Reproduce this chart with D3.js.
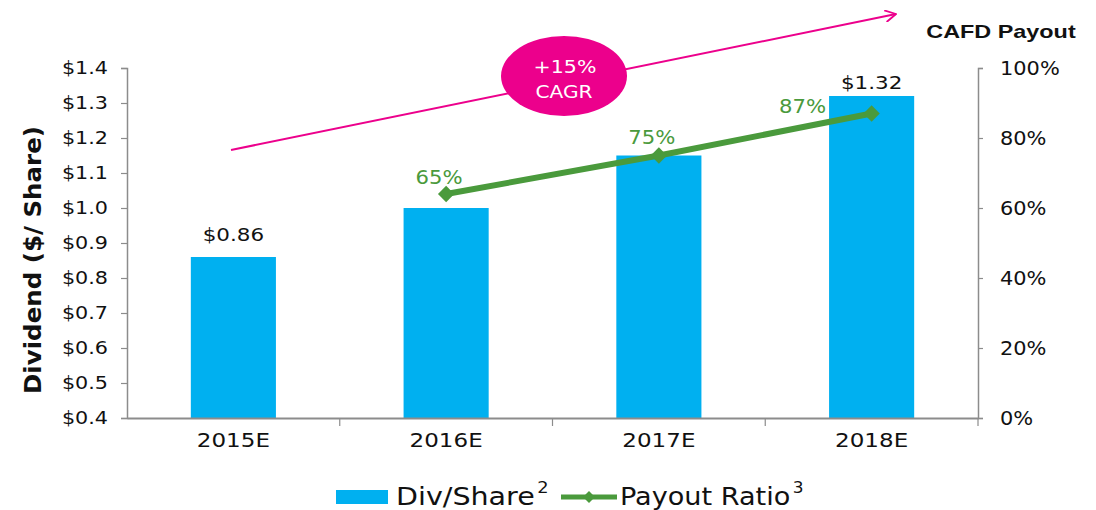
<!DOCTYPE html>
<html>
<head>
<meta charset="utf-8">
<script src="https://cdn.jsdelivr.net/npm/d3@7"></script>
<style>
  body { margin: 0; background: #fff; }
  svg { display: block; }
</style>
</head>
<body>
<div id="chart"></div>
<script>
// data
const years = ["2015E", "2016E", "2017E", "2018E"];
const divPerShare = [0.86, 1.00, 1.15, 1.32];
const divLabels = ["$0.86", null, null, "$1.32"];
const payoutYears = ["2016E", "2017E", "2018E"];
const payoutRatio = [0.64, 0.75, 0.87];
const payoutLabels = ["65%", "75%", "87%"];
const leftTicks = [0.4, 0.5, 0.6, 0.7, 0.8, 0.9, 1.0, 1.1, 1.2, 1.3, 1.4];
const rightTicks = [0, 0.2, 0.4, 0.6, 0.8, 1.0];

// label placement (hand moved in the original)
const divLabelDy = [-16, 0, 0, -7];
const payoutLabelDx = [-7, -7, -69];
const payoutLabelDy = [-10, -11, 0];

const W = 1096, H = 510;
const plotLeft = 127, plotRight = 978, plotTop = 68, plotBottom = 418;
const blue = "#00b0f0", green = "#4a9a3c", pink = "#ec008c", axisCol = "#8c8c8c";
const tickFont = "DejaVu Sans, Verdana, sans-serif";

const svg = d3.select("#chart").append("svg")
  .attr("width", W).attr("height", H);

// the original is a bit wider than tall, so text is stretched sideways
function stretch(sel, s) {
  sel.each(function () {
    const t = d3.select(this);
    const x = +t.attr("x") || 0, y = +t.attr("y") || 0;
    t.attr("transform", "translate(" + x + "," + y + ") scale(" + s + ",1) translate(" + (-x) + "," + (-y) + ")");
  });
}

// scales
const x = d3.scaleBand().domain(years).range([plotLeft, plotRight]).paddingInner(0).paddingOuter(0);
const yL = d3.scaleLinear().domain([0.4, 1.4]).range([plotBottom, plotTop]);
const yR = d3.scaleLinear().domain([0, 1]).range([plotBottom, plotTop]);
const barW = x.bandwidth() * 0.4;
const cx = (d) => x(d) + x.bandwidth() / 2;

// bars
svg.selectAll("rect.bar")
  .data(years)
  .enter()
  .append("rect")
  .attr("class", "bar")
  .attr("x", (d) => cx(d) - barW / 2)
  .attr("y", (d, i) => yL(divPerShare[i]))
  .attr("width", barW)
  .attr("height", (d, i) => plotBottom - yL(divPerShare[i]))
  .attr("fill", blue);

// bar labels
const labelled = years.filter((d, i) => divLabels[i] != null);
svg.selectAll("text.barlab")
  .data(labelled)
  .enter()
  .append("text")
  .attr("x", (d) => cx(d))
  .attr("y", (d) => { const i = years.indexOf(d); return yL(divPerShare[i]) + divLabelDy[i]; })
  .attr("text-anchor", "middle")
  .style("font-family", tickFont)
  .style("font-size", "18.5px")
  .attr("fill", "#111")
  .text((d) => divLabels[years.indexOf(d)])
  .call(stretch, 1.16);

// left axis
const gL = svg.append("g")
  .attr("transform", "translate(" + plotLeft + ",0)")
  .call(d3.axisLeft(yL).tickValues(leftTicks).tickSize(6).tickPadding(13)
    .tickFormat((d) => "$" + d3.format(".1f")(d)));
// right axis
const gR = svg.append("g")
  .attr("transform", "translate(" + plotRight + ",0)")
  .call(d3.axisRight(yR).tickValues(rightTicks).tickSize(5).tickPadding(17)
    .tickFormat(d3.format(".0%")));
// x axis
const gX = svg.append("g")
  .attr("transform", "translate(0," + plotBottom + ")")
  .call(d3.axisBottom(x).tickSize(0).tickPadding(15));

[gL, gR].forEach((g) => {
  g.select(".domain").attr("stroke", axisCol).attr("stroke-width", 1.5);
  g.selectAll(".tick line").attr("stroke", axisCol).attr("stroke-width", 1.2);
  g.selectAll("text").style("font-family", tickFont).style("font-size", "18px").attr("fill", "#111");
});
gL.selectAll("text").call(stretch, 1.15);
gR.selectAll("text").style("font-size", "19px").call(stretch, 1.1);
gX.select(".domain").attr("stroke", axisCol).attr("stroke-width", 2);
gX.selectAll("text").style("font-family", tickFont)
  .style("font-size", "20px").attr("fill", "#111").call(stretch, 1.15);
// category separator ticks
const seps = years.slice(1).map((d) => x(d)).concat([plotRight]);
gX.selectAll("line.sep")
  .data(seps)
  .enter()
  .append("line")
  .attr("x1", (d) => d)
  .attr("x2", (d) => d)
  .attr("y1", 0).attr("y2", 8)
  .attr("stroke", axisCol).attr("stroke-width", 1.2);

// payout line
const line = d3.line()
  .x((d) => cx(d))
  .y((d, i) => yR(payoutRatio[i]));
svg.append("path")
  .datum(payoutYears)
  .attr("d", line)
  .attr("fill", "none")
  .attr("stroke", green)
  .attr("stroke-width", 6);
svg.selectAll("path.diamond")
  .data(payoutYears)
  .enter()
  .append("path")
  .attr("d", d3.symbol().type(d3.symbolDiamond2).size(170))
  .attr("transform", (d, i) => "translate(" + cx(d) + "," + yR(payoutRatio[i]) + ")")
  .attr("fill", green);
svg.selectAll("text.plab")
  .data(payoutYears)
  .enter()
  .append("text")
  .attr("x", (d, i) => cx(d) + payoutLabelDx[i])
  .attr("y", (d, i) => yR(payoutRatio[i]) + payoutLabelDy[i])
  .attr("text-anchor", "middle")
  .style("font-family", tickFont)
  .style("font-size", "20px")
  .attr("fill", green)
  .text((d, i) => payoutLabels[i])
  .call(stretch, 1.06);

// CAGR arrow
const defs = svg.append("defs");
defs.append("marker")
  .attr("id", "arrow")
  .attr("viewBox", "0 0 10 10")
  .attr("refX", 9).attr("refY", 5)
  .attr("markerWidth", 12).attr("markerHeight", 12)
  .attr("markerUnits", "userSpaceOnUse")
  .attr("orient", "auto")
  .append("path")
  .attr("d", "M0,0 L9,5 L0,10")
  .attr("fill", "none")
  .attr("stroke", pink)
  .attr("stroke-width", 1.5);
svg.append("line")
  .attr("x1", 231).attr("y1", 150)
  .attr("x2", 896).attr("y2", 14)
  .attr("stroke", pink)
  .attr("stroke-width", 2)
  .attr("marker-end", "url(#arrow)");
svg.append("ellipse")
  .attr("cx", 564).attr("cy", 76)
  .attr("rx", 63).attr("ry", 40)
  .attr("fill", pink);
svg.append("text")
  .attr("x", 565).attr("y", 73)
  .attr("text-anchor", "middle")
  .style("font-family", tickFont).style("font-size", "18px")
  .attr("fill", "#fff").text("+15%")
  .call(stretch, 1.14);
svg.append("text")
  .attr("x", 564).attr("y", 98)
  .attr("text-anchor", "middle")
  .style("font-family", tickFont).style("font-size", "18px")
  .attr("fill", "#fff").text("CAGR")
  .call(stretch, 1.12);

// titles
svg.append("text")
  .attr("x", 1001).attr("y", 38)
  .attr("text-anchor", "middle")
  .style("font-family", "Liberation Sans, Arial, sans-serif")
  .style("font-size", "18px").style("font-weight", "bold")
  .attr("fill", "#111").text("CAFD Payout")
  .call(stretch, 1.3);
svg.append("text")
  .attr("transform", "translate(41,260) rotate(-90)")
  .attr("text-anchor", "middle")
  .attr("textLength", 268)
  .attr("lengthAdjust", "spacingAndGlyphs")
  .style("font-family", tickFont)
  .style("font-size", "23px").style("font-weight", "bold")
  .attr("fill", "#111").text("Dividend ($/ Share)");

// legend
const lg = svg.append("g").attr("transform", "translate(0,497)");
lg.append("rect").attr("x", 336).attr("y", -7).attr("width", 52).attr("height", 14).attr("fill", blue);
const t1 = lg.append("text").attr("x", 396).attr("y", 8)
  .style("font-family", tickFont).style("font-size", "24px").attr("fill", "#111");
t1.append("tspan").text("Div/Share");
t1.append("tspan").attr("dx", 2).attr("dy", -12).style("font-size", "15px").text("2");
t1.call(stretch, 1.19);
lg.append("line").attr("x1", 561).attr("x2", 617).attr("y1", 0).attr("y2", 0)
  .attr("stroke", green).attr("stroke-width", 5);
lg.append("path").attr("d", d3.symbol().type(d3.symbolDiamond2).size(90))
  .attr("transform", "translate(589,0)").attr("fill", green);
const t2 = lg.append("text").attr("x", 620).attr("y", 8)
  .style("font-family", tickFont).style("font-size", "24px").attr("fill", "#111");
t2.append("tspan").text("Payout Ratio");
t2.append("tspan").attr("dx", 2).attr("dy", -12).style("font-size", "15px").text("3");
t2.call(stretch, 1.13);
</script>
</body>
</html>
